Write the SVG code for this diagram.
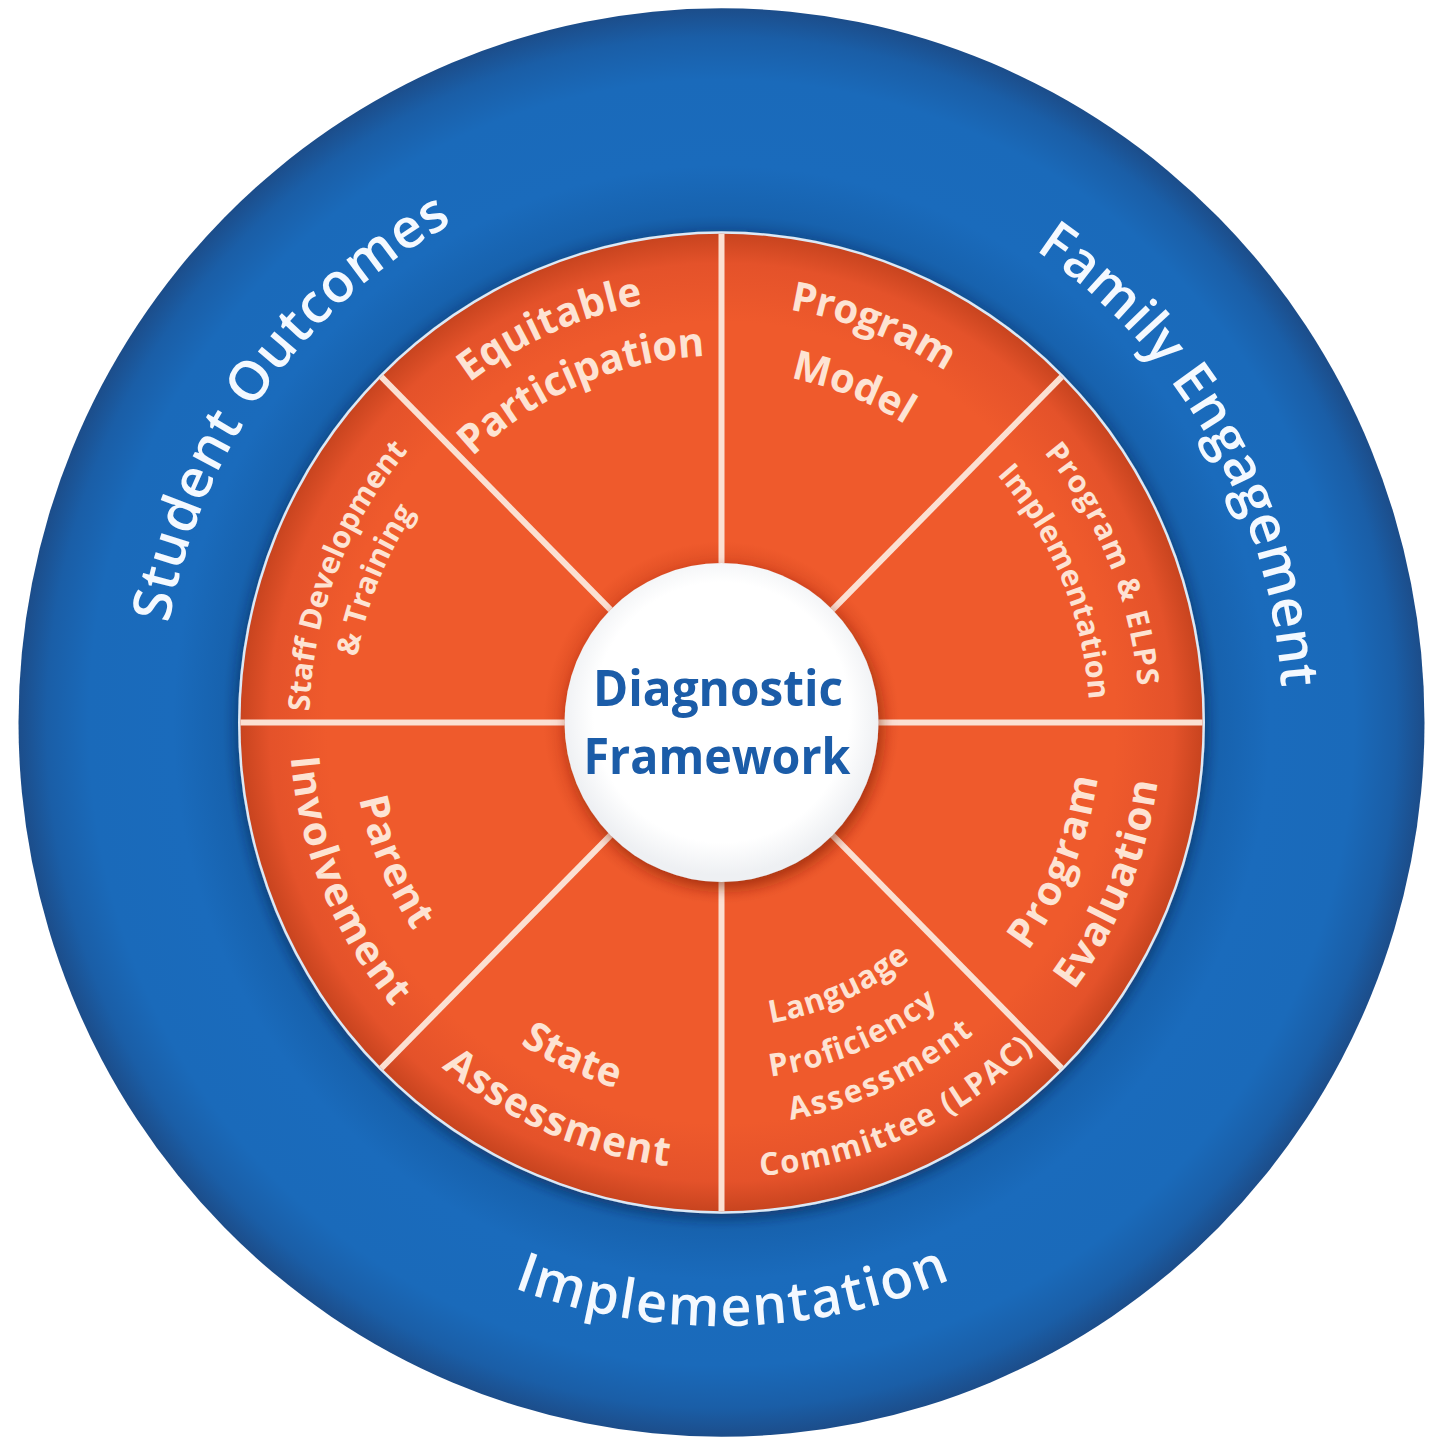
<svg xmlns="http://www.w3.org/2000/svg" xmlns:xlink="http://www.w3.org/1999/xlink" width="1441" height="1437" viewBox="0 0 1441 1437">
  <style>
    text { font-family: "Open Sans", "Noto Sans", "Liberation Sans", sans-serif; font-weight: 600; }
    .ring { font-size: 54px; fill: #f4f9ff; }
    .lbl { font-size: 40px; font-weight: 700; fill: #fde3d3; }
    .lbl-s { font-size: 30px; font-weight: 700; fill: #fde3d3; }
    .lbl-m { font-size: 31px; font-weight: 700; fill: #fde3d3; }
    .core { font-size: 51px; font-weight: 700; fill: #1b5ca8; }
    .spoke { stroke: #fbe0d2; stroke-width: 6; stroke-linecap: butt; }
  </style>
  <defs>
    <radialGradient id="blueGrad" gradientUnits="userSpaceOnUse" cx="0" cy="0" r="703">
      <stop offset="0.66" stop-color="#0f4584"/>
      <stop offset="0.71" stop-color="#1762ae"/>
      <stop offset="0.78" stop-color="#1a6bbc"/>
      <stop offset="0.9" stop-color="#1a6aba"/>
      <stop offset="0.96" stop-color="#1a5ea7"/>
      <stop offset="1" stop-color="#1c4d8a"/>
    </radialGradient>
    <radialGradient id="orangeGrad" gradientUnits="userSpaceOnUse" cx="0" cy="0" r="481">
      <stop offset="0.3" stop-color="#d8481f"/>
      <stop offset="0.37" stop-color="#ef5a2c"/>
      <stop offset="0.82" stop-color="#ef5a2c"/>
      <stop offset="0.94" stop-color="#e4522a"/>
      <stop offset="1" stop-color="#c8441f"/>
    </radialGradient>
    <radialGradient id="hubGrad" gradientUnits="userSpaceOnUse" cx="0" cy="-10" r="160">
      <stop offset="0.8" stop-color="#ffffff"/>
      <stop offset="1" stop-color="#eef0f3"/>
    </radialGradient>
    <filter id="discShadow" x="-10%" y="-10%" width="120%" height="120%">
      <feDropShadow dx="0" dy="4" stdDeviation="6" flood-color="#0a2c5c" flood-opacity="0.6"/>
    </filter>
    <filter id="hubShadow" x="-20%" y="-20%" width="140%" height="140%">
      <feDropShadow dx="3" dy="6" stdDeviation="7" flood-color="#7a2106" flood-opacity="0.55"/>
    </filter>

    <!-- baseline arcs, centred on the hub -->
    <path id="pStudent" d="M -552.5 -97.4 A 559 559 0 0 1 -266.3 -492.8"/>
    <path id="pFamily" d="M 313.7 -465.1 A 561 561 0 0 1 559.95 -34.25"/>
    <path id="pImpl" d="M -208.0 556.4 A 594 594 0 0 0 229.2 548.0"/>

    <path id="pEquit" d="M -252.2 -334.6 A 419 419 0 0 1 -78.5 -411.6"/>
    <path id="pPartic" d="M -249.0 -261.4 A 361 361 0 0 1 -16.4 -360.6"/>

    <path id="pProg1" d="M 68.0 -406.4 A 412 412 0 0 1 224.4 -345.5"/>
    <path id="pModel" d="M 69.0 -339.1 A 346 346 0 0 1 183.4 -293.4"/>

    <path id="pElps" d="M 322.5 -265.9 A 418 418 0 0 1 416.4 -36.4"/>
    <path id="pImpl2" d="M 275.6 -243.8 A 368 368 0 0 1 367.3 -22.5"/>

    <path id="pProg2" d="M 306.3 225.0 A 380 380 0 0 0 376.1 54.2"/>
    <path id="pEval" d="M 352.3 263.6 A 440 440 0 0 0 436.1 58.2"/>

    <path id="pLang" d="M 49.0 296.0 A 300 300 0 0 0 188.8 233.1"/>
    <path id="pProf" d="M 49.0 348.6 A 352 352 0 0 0 216.7 277.4"/>
    <path id="pAssess1" d="M 68.9 391.0 A 397 397 0 0 0 252.5 306.3"/>
    <path id="pComm" d="M 39.0 446.3 A 448 448 0 0 0 312.3 321.2"/>

    <path id="pState" d="M -201.5 316.3 A 375 375 0 0 0 -105.3 359.9"/>
    <path id="pAssess2" d="M -279.9 339.5 A 440 440 0 0 0 -53.6 436.7"/>

    <path id="pParent" d="M -362.3 75.0 A 370 370 0 0 0 -307.8 205.3"/>
    <path id="pInvolve" d="M -430.7 33.9 A 432 432 0 0 0 -329.1 279.8"/>

    <path id="pStaff" d="M -411.9 -10.8 A 412 412 0 0 1 -313.3 -267.6"/>
    <path id="pTrain" d="M -364.4 -64.3 A 370 370 0 0 1 -306.7 -206.9"/>
  </defs>

  <rect width="1441" height="1437" fill="#ffffff"/>

  <g transform="translate(721.5 722.5) scale(1 1.016)">
    <!-- outer blue ring -->
    <g id="outer-ring">
      <circle r="703" fill="url(#blueGrad)"/>
      <text class="ring"><textPath href="#pStudent" xlink:href="#pStudent" textLength="502" lengthAdjust="spacing">Student Outcomes</textPath></text>
      <text class="ring"><textPath href="#pFamily" xlink:href="#pFamily" textLength="514" lengthAdjust="spacing">Family Engagement</textPath></text>
      <text class="ring"><textPath href="#pImpl" xlink:href="#pImpl" textLength="448" lengthAdjust="spacing">Implementation</textPath></text>
    </g>

    <!-- orange wheel with its pale rim -->
    <g id="wheel">
      <circle r="483.5" fill="#dce9f6" filter="url(#discShadow)"/>
      <circle r="481" fill="url(#orangeGrad)"/>
    </g>

    <!-- dividers between the eight segments -->
    <g id="connectors">
      <line class="spoke" x1="157" y1="0" x2="481" y2="0"/>
      <line class="spoke" x1="111" y1="111" x2="340.1" y2="340.1"/>
      <line class="spoke" x1="0" y1="157" x2="0" y2="481"/>
      <line class="spoke" x1="-111" y1="111" x2="-340.1" y2="340.1"/>
      <line class="spoke" x1="-157" y1="0" x2="-481" y2="0"/>
      <line class="spoke" x1="-111" y1="-111" x2="-340.1" y2="-340.1"/>
      <line class="spoke" x1="0" y1="-157" x2="0" y2="-481"/>
      <line class="spoke" x1="111" y1="-111" x2="340.1" y2="-340.1"/>
    </g>

    <g id="seg-equitable">
      <text class="lbl"><textPath href="#pEquit" xlink:href="#pEquit" textLength="192" lengthAdjust="spacing">Equitable</textPath></text>
      <text class="lbl"><textPath href="#pPartic" xlink:href="#pPartic" textLength="258" lengthAdjust="spacing">Participation</textPath></text>
    </g>
    <g id="seg-program-model">
      <text class="lbl"><textPath href="#pProg1" xlink:href="#pProg1" textLength="169" lengthAdjust="spacing">Program</textPath></text>
      <text class="lbl"><textPath href="#pModel" xlink:href="#pModel" textLength="124" lengthAdjust="spacing">Model</textPath></text>
    </g>
    <g id="seg-elps">
      <text class="lbl-s"><textPath href="#pElps" xlink:href="#pElps" textLength="252" lengthAdjust="spacing">Program &amp; ELPS</textPath></text>
      <text class="lbl-s"><textPath href="#pImpl2" xlink:href="#pImpl2" textLength="244" lengthAdjust="spacing">Implementation</textPath></text>
    </g>
    <g id="seg-evaluation">
      <text class="lbl"><textPath href="#pProg2" xlink:href="#pProg2" textLength="186" lengthAdjust="spacing">Program</textPath></text>
      <text class="lbl"><textPath href="#pEval" xlink:href="#pEval" textLength="224" lengthAdjust="spacing">Evaluation</textPath></text>
    </g>
    <g id="seg-lpac">
      <text class="lbl-m"><textPath href="#pLang" xlink:href="#pLang" textLength="155" lengthAdjust="spacing">Language</textPath></text>
      <text class="lbl-m"><textPath href="#pProf" xlink:href="#pProf" textLength="184" lengthAdjust="spacing">Proficiency</textPath></text>
      <text class="lbl-m"><textPath href="#pAssess1" xlink:href="#pAssess1" textLength="204" lengthAdjust="spacing">Assessment</textPath></text>
      <text class="lbl-m"><textPath href="#pComm" xlink:href="#pComm" textLength="306" lengthAdjust="spacing">Committee (LPAC)</textPath></text>
    </g>
    <g id="seg-state">
      <text class="lbl"><textPath href="#pState" xlink:href="#pState" textLength="106" lengthAdjust="spacing">State</textPath></text>
      <text class="lbl"><textPath href="#pAssess2" xlink:href="#pAssess2" textLength="250" lengthAdjust="spacing">Assessment</textPath></text>
    </g>
    <g id="seg-parent">
      <text class="lbl"><textPath href="#pParent" xlink:href="#pParent" textLength="142" lengthAdjust="spacing">Parent</textPath></text>
      <text class="lbl"><textPath href="#pInvolve" xlink:href="#pInvolve" textLength="271" lengthAdjust="spacing">Involvement</textPath></text>
    </g>
    <g id="seg-staff">
      <text class="lbl-s"><textPath href="#pStaff" xlink:href="#pStaff" textLength="280" lengthAdjust="spacing">Staff Development</textPath></text>
      <text class="lbl-s"><textPath href="#pTrain" xlink:href="#pTrain" textLength="155" lengthAdjust="spacing">&amp; Training</textPath></text>
    </g>

    <!-- hub -->
    <g id="hub-disc">
      <circle r="157" fill="url(#hubGrad)" filter="url(#hubShadow)"/>
    </g>
  </g>

  <g id="hub">
    <text class="core" x="718" y="706" text-anchor="middle" textLength="250" lengthAdjust="spacingAndGlyphs">Diagnostic</text>
    <text class="core" x="717" y="774" text-anchor="middle" textLength="267" lengthAdjust="spacingAndGlyphs">Framework</text>
  </g>
</svg>
